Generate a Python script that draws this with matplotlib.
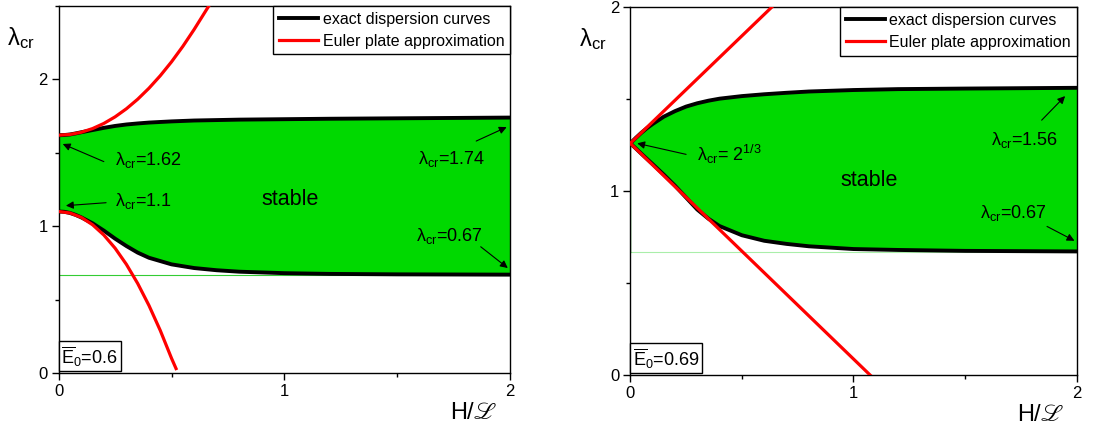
import matplotlib
matplotlib.use('Agg')
import matplotlib.pyplot as plt
from matplotlib.ticker import MultipleLocator

plt.rcParams['font.family'] = ['Liberation Sans', 'DejaVu Sans']
plt.rcParams['mathtext.fontset'] = 'custom'
plt.rcParams['mathtext.rm'] = 'Liberation Sans'
plt.rcParams['mathtext.it'] = 'Liberation Sans:italic'
plt.rcParams['mathtext.bf'] = 'Liberation Sans:bold'

# общая сетка по H/L для точных кривых
h_grid = [0, 0.025, 0.05, 0.075, 0.1, 0.15, 0.2, 0.25, 0.3, 0.35, 0.4, 0.5, 0.6, 0.7, 0.8, 1.0, 1.2, 1.5, 2.0]

# левая панель, E0 = 0.6
left_upper = [1.62, 1.621, 1.625, 1.632, 1.64, 1.655, 1.67, 1.683, 1.693, 1.70, 1.706, 1.714, 1.72,
              1.723, 1.726, 1.729, 1.732, 1.735, 1.74]
left_lower = [1.10, 1.098, 1.09, 1.077, 1.06, 1.02, 0.97, 0.915, 0.865, 0.82, 0.785, 0.74, 0.715,
              0.70, 0.69, 0.68, 0.675, 0.672, 0.67]
left_euler_up_x = [0, 0.05, 0.1, 0.15, 0.2, 0.25, 0.3, 0.35, 0.4, 0.45, 0.5, 0.55, 0.6, 0.665]
left_euler_up_y = [1.62, 1.625, 1.64, 1.665, 1.70, 1.745, 1.80, 1.865, 1.94, 2.025, 2.12, 2.225, 2.34, 2.5]
left_euler_dn_x = [0, 0.05, 0.1, 0.15, 0.2, 0.25, 0.3, 0.35, 0.4, 0.45, 0.5, 0.52]
left_euler_dn_y = [1.10, 1.09, 1.06, 1.01, 0.94, 0.85, 0.74, 0.61, 0.46, 0.29, 0.10, 0.03]

# правая панель, E0 = 0.69
right_upper = [1.26, 1.29, 1.318, 1.343, 1.365, 1.405, 1.435, 1.46, 1.478, 1.492, 1.503, 1.517, 1.527,
               1.535, 1.542, 1.55, 1.555, 1.558, 1.562]
right_lower = [1.26, 1.232, 1.203, 1.175, 1.147, 1.09, 1.03, 0.965, 0.90, 0.85, 0.81, 0.76, 0.73,
               0.713, 0.70, 0.685, 0.68, 0.675, 0.672]
right_euler_up_x = [0, 0.633]
right_euler_up_y = [1.26, 2.0]
right_euler_dn_x = [0, 1.074]
right_euler_dn_y = [1.26, 0.0]

asymptote = 0.67

fig = plt.figure(figsize=(10.95, 4.3), dpi=100)
ax1 = fig.add_axes([0.0536, 0.1326, 0.4122, 0.8534])
ax2 = fig.add_axes([0.5756, 0.128, 0.4077, 0.855])

green = '#00d900'
arrow = dict(arrowstyle='-|>', color='black', lw=0.8, mutation_scale=11, shrinkA=0, shrinkB=0)


def setup_axes(ax, ymax, ylow_line_color, e0_text, upper, lower, eu_x, eu_y, ed_x, ed_y):
    ax.fill_between(h_grid, lower, upper, color=green, lw=0, zorder=1)
    ax.axhline(asymptote, color=ylow_line_color, lw=0.8, zorder=1)
    ax.plot(h_grid, upper, color='black', lw=2.8, zorder=3, label='exact dispersion curves')
    ax.plot(h_grid, lower, color='black', lw=2.8, zorder=3)
    ax.plot(eu_x, eu_y, color='red', lw=2.3, zorder=4, label='Euler plate approximation')
    ax.plot(ed_x, ed_y, color='red', lw=2.3, zorder=4)
    ax.set_xlim(0, 2)
    ax.set_ylim(0, ymax)
    ax.xaxis.set_major_locator(MultipleLocator(1))
    ax.xaxis.set_minor_locator(MultipleLocator(0.5))
    ax.yaxis.set_major_locator(MultipleLocator(1))
    ax.yaxis.set_minor_locator(MultipleLocator(0.5))
    ax.tick_params(which='major', direction='out', length=5, width=1, labelsize=12, pad=3)
    ax.tick_params(which='minor', direction='out', length=3, width=1)
    for s in ax.spines.values():
        s.set_linewidth(1)
    ax.text(-0.083, 0.913, r'$\mathrm{λ_{cr}}$', transform=ax.transAxes, fontsize=17,
            ha='center', va='center')
    ax.text(0.918, -0.109, 'H/ℒ', transform=ax.transAxes, fontsize=17,
            ha='center', va='center', family=['Liberation Sans', 'STIXGeneral'])
    ax.text(0.006, 0.012, e0_text, transform=ax.transAxes, fontsize=13, ha='left', va='bottom',
            zorder=6, bbox=dict(boxstyle='square,pad=0.15', fc='white', ec='black', lw=1))
    leg = ax.legend(loc='upper right', fontsize=11.5, borderaxespad=0, fancybox=False,
                    framealpha=1, edgecolor='black', handlelength=2.45, handletextpad=0.3,
                    borderpad=0.35, labelspacing=0.45)
    leg.get_frame().set_linewidth(1)
    leg.set_zorder(7)


setup_axes(ax1, 2.5, '#33cc33', r'$\overline{\mathrm{E}}_\mathrm{0}$=0.6',
           left_upper, left_lower, left_euler_up_x, left_euler_up_y, left_euler_dn_x, left_euler_dn_y)
setup_axes(ax2, 2.0, '#aaeeaa', r'$\overline{\mathrm{E}}_\mathrm{0}$=0.69',
           right_upper, right_lower, right_euler_up_x, right_euler_up_y, right_euler_dn_x, right_euler_dn_y)
ax2.plot([0, 0], [asymptote, right_lower[0]], color='green', lw=1, zorder=2)

fs = 13
# подписи левой панели
ax1.annotate('', xy=(0.018, 1.56), xytext=(0.2, 1.44), arrowprops=arrow, zorder=5)
ax1.text(0.25, 1.45, r'$\mathrm{λ_{cr}}$=1.62', fontsize=fs, va='center', ha='left')
ax1.annotate('', xy=(0.032, 1.14), xytext=(0.21, 1.16), arrowprops=arrow, zorder=5)
ax1.text(0.25, 1.17, r'$\mathrm{λ_{cr}}$=1.1', fontsize=fs, va='center', ha='left')
ax1.annotate('', xy=(1.985, 1.675), xytext=(1.85, 1.58), arrowprops=arrow, zorder=5)
ax1.text(1.59, 1.46, r'$\mathrm{λ_{cr}}$=1.74', fontsize=fs, va='center', ha='left')
ax1.annotate('', xy=(1.99, 0.715), xytext=(1.87, 0.86), arrowprops=arrow, zorder=5)
ax1.text(1.585, 0.93, r'$\mathrm{λ_{cr}}$=0.67', fontsize=fs, va='center', ha='left')
ax1.text(1.025, 1.18, 'stable', fontsize=15.5, ha='center', va='center')

# подписи правой панели
ax2.annotate('', xy=(0.031, 1.26), xytext=(0.25, 1.2), arrowprops=arrow, zorder=5)
ax2.text(0.297, 1.2, r'$\mathrm{λ_{cr}}$= $\mathrm{2^{1/3}}$', fontsize=fs, va='center', ha='left')
ax2.annotate('', xy=(1.948, 1.517), xytext=(1.843, 1.386), arrowprops=arrow, zorder=5)
ax2.text(1.615, 1.28, r'$\mathrm{λ_{cr}}$=1.56', fontsize=fs, va='center', ha='left')
ax2.annotate('', xy=(1.99, 0.73), xytext=(1.867, 0.808), arrowprops=arrow, zorder=5)
ax2.text(1.565, 0.88, r'$\mathrm{λ_{cr}}$=0.67', fontsize=fs, va='center', ha='left')
ax2.text(1.07, 1.06, 'stable', fontsize=15.5, ha='center', va='center')

fig.savefig('out.png', dpi=100)
